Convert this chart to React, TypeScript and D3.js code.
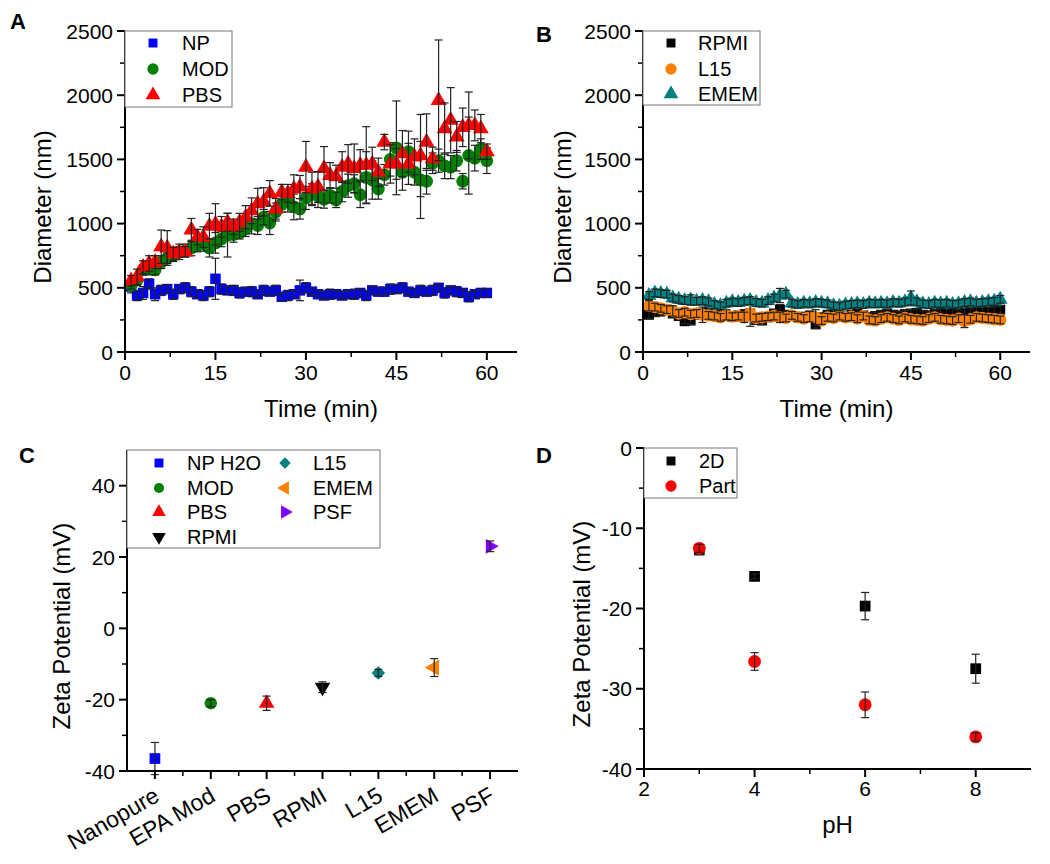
import React, { useRef, useEffect } from "react";
import * as d3 from "d3";

// Datos (diámetro en nm, potencial zeta en mV)
const timeMin = [
  1, 2, 3, 4, 5, 6, 7, 8, 9, 10, 11, 12, 13, 14, 15, 16, 17, 18, 19, 20,
  21, 22, 23, 24, 25, 26, 27, 28, 29, 30, 31, 32, 33, 34, 35, 36, 37, 38, 39, 40,
  41, 42, 43, 44, 45, 46, 47, 48, 49, 50, 51, 52, 53, 54, 55, 56, 57, 58, 59, 60,
];

const npDiam = [
  510, 440, 460, 530, 450, 480, 490, 450, 490, 500, 470, 450, 440, 470, 570, 490, 480, 480, 460, 470,
  470, 450, 480, 470, 480, 430, 440, 450, 480, 500, 470, 450, 440, 450, 450, 440, 450, 450, 460, 440,
  480, 470, 470, 490, 490, 500, 470, 460, 480, 470, 480, 500, 460, 480, 470, 460, 430, 450, 460, 460,
];
const npErr = [
  50, 40, 50, 40, 50, 40, 30, 40, 30, 40, 40, 30, 40, 40, 160, 40, 30, 40, 40, 30,
  40, 30, 40, 30, 40, 30, 40, 30, 80, 40, 30, 30, 30, 40, 30, 30, 30, 40, 30, 40,
  30, 30, 30, 40, 30, 40, 30, 30, 40, 30, 40, 30, 40, 30, 40, 30, 40, 30, 30, 30,
];
const modDiam = [
  520, 560, 640, 650, 640, 700, 730, 755, 780, 790, 810, 830, 845, 810, 850, 880, 910, 915, 930, 960,
  1000, 985, 1050, 1005, 1090, 1150, 1170, 1130, 1115, 1200, 1230, 1215, 1190, 1220, 1185, 1250, 1295, 1310, 1225, 1360,
  1340, 1270, 1380, 1500, 1590, 1400, 1560, 1400, 1340, 1330, 1470, 1490, 1450, 1440, 1490, 1330, 1530, 1510, 1580, 1490,
];
const modErr = [
  30, 40, 40, 50, 40, 50, 40, 50, 40, 50, 60, 50, 60, 70, 80, 60, 170, 60, 50, 60,
  80, 70, 60, 90, 70, 60, 80, 100, 80, 90, 80, 90, 70, 60, 60, 80, 90, 70, 100, 200,
  150, 80, 80, 130, 365, 140, 160, 100, 300, 100, 80, 90, 100, 90, 80, 60, 300, 100, 80, 100,
];
const pbsDiam = [
  555, 585, 660, 690, 700, 820, 810, 765, 780, 780, 950, 895, 895, 980, 995, 975, 1010, 975, 1010, 1050,
  1100, 1155, 1170, 1235, 1115, 1245, 1235, 1270, 1285, 1440, 1270, 1285, 1430, 1375, 1365, 1440, 1465, 1430, 1455, 1455,
  1465, 1400, 1635, 1465, 1465, 1545, 1465, 1520, 1530, 1635, 1505, 1960, 1740, 1805, 1675, 1750, 1765, 1765, 1740, 1560,
];
const pbsErr = [
  40, 60, 50, 60, 50, 130, 135, 50, 60, 40, 90, 60, 80, 100, 160, 80, 70, 60, 70, 90,
  100, 120, 110, 100, 80, 60, 70, 110, 90, 200, 130, 120, 170, 100, 90, 120, 150, 190, 120, 300,
  130, 110, 60, 150, 120, 180, 160, 140, 320, 220, 90, 470, 200, 254, 120, 150, 260, 120, 110, 60,
];

const rpmiDiam = [
  290, 310, 320, 330, 300, 280, 240, 245, 290, 300, 310, 300, 290, 280, 275, 285, 290, 300, 250, 245,
  270, 300, 330, 290, 280, 270, 275, 280, 215, 270, 290, 300, 280, 275, 290, 300, 285, 270, 280, 290,
  300, 290, 285, 295, 300, 305, 290, 285, 300, 310, 305, 310, 300, 315, 310, 320, 325, 315, 320, 330,
];
const rpmiErr = [
  30, 30, 40, 30, 30, 30, 20, 30, 30, 30, 40, 30, 30, 30, 30, 30, 40, 30, 30, 30,
  30, 30, 40, 30, 30, 30, 30, 40, 30, 30, 30, 30, 30, 30, 30, 40, 30, 30, 30, 30,
  30, 30, 30, 30, 30, 30, 30, 30, 30, 30, 30, 30, 30, 30, 30, 30, 30, 30, 30, 30,
];
const l15Diam = [
  360, 350, 340, 330, 320, 300, 310, 295, 300, 290, 285, 280, 270, 290, 275, 280, 270, 300, 265, 270,
  275, 280, 270, 265, 285, 270, 260, 275, 270, 245, 270, 265, 280, 270, 275, 260, 280, 250, 245, 260,
  270, 260, 250, 265, 255, 250, 245, 260, 270, 255, 250, 245, 260, 240, 255, 270, 265, 260, 255, 250,
];
const l15Err = [
  40, 30, 30, 30, 40, 30, 30, 30, 30, 60, 30, 30, 30, 40, 30, 30, 40, 100, 30, 30,
  30, 30, 40, 30, 30, 30, 30, 40, 60, 30, 30, 30, 30, 30, 30, 30, 30, 30, 30, 30,
  30, 30, 30, 30, 30, 30, 30, 30, 30, 30, 30, 30, 30, 50, 30, 30, 30, 30, 30, 30,
];
const ememDiam = [
  440, 460, 455, 450, 420, 410, 400, 405, 395, 400, 390, 370, 360, 380, 390, 385, 395, 400, 385, 380,
  400, 420, 440, 450, 380, 370, 380, 375, 385, 380, 375, 360, 355, 365, 370, 375, 370, 380, 375, 380,
  375, 385, 380, 390, 420, 390, 375, 370, 380, 375, 380, 370, 375, 385, 390, 380, 385, 390, 395, 410,
];
const ememErr = [
  30, 30, 30, 30, 30, 30, 30, 40, 30, 30, 30, 30, 30, 30, 30, 30, 30, 30, 30, 30,
  30, 30, 55, 30, 30, 30, 30, 30, 30, 30, 30, 30, 30, 30, 30, 30, 30, 30, 30, 30,
  30, 30, 30, 30, 55, 30, 30, 30, 30, 30, 30, 30, 30, 30, 30, 30, 30, 30, 30, 30,
];

const zetaMedia = ["Nanopure", "EPA Mod", "PBS", "RPMI", "L15", "EMEM", "PSF"];
const zetaLegend = ["NP H2O", "MOD", "PBS", "RPMI", "L15", "EMEM", "PSF"];
const zetaValues = [-36.5, -21, -21, -16.5, -12.5, -11, 23];
const zetaErr = [4.5, 1, 2, 1.5, 1, 2.5, 1.5];

const phValues = [3, 4, 6, 8];
const zeta2D = [-12.7, -16, -19.7, -27.5];
const zeta2DErr = [0.6, 0.3, 1.7, 1.8];
const zetaPart = [-12.5, -26.6, -32, -36];
const zetaPartErr = [0.5, 1.1, 1.6, 0.5];

const FONT = "'Liberation Sans', Arial, sans-serif";
const TICK_FS = 21;
const TITLE_FS = 24;
const LEGEND_FS = 20;

const drawAxes = (g, x, y, o) => {
  const [x0, x1] = x.range();
  const [y0, y1] = y.range();
  g.append("line").attr("x1", x0).attr("x2", x1).attr("y1", y0).attr("y2", y0)
    .attr("stroke", "#000").attr("stroke-width", 2);
  g.append("line").attr("x1", x0).attr("x2", x0).attr("y1", y0).attr("y2", y1)
    .attr("stroke", "#000").attr("stroke-width", 2);
  o.xMinor.forEach((t) => g.append("line").attr("x1", x(t)).attr("x2", x(t))
    .attr("y1", y0).attr("y2", y0 + 5).attr("stroke", "#000").attr("stroke-width", 1.5));
  o.yMinor.forEach((t) => g.append("line").attr("x1", x0).attr("x2", x0 - 5)
    .attr("y1", y(t)).attr("y2", y(t)).attr("stroke", "#000").attr("stroke-width", 1.5));
  o.xTicks.forEach((t) => {
    g.append("line").attr("x1", x(t)).attr("x2", x(t)).attr("y1", y0).attr("y2", y0 + 8)
      .attr("stroke", "#000").attr("stroke-width", 2);
    if (o.xLabels !== false)
      g.append("text").attr("x", x(t)).attr("y", y0 + o.xTickDy).attr("text-anchor", "middle")
        .attr("font-size", TICK_FS).text(t);
  });
  o.yTicks.forEach((t) => {
    g.append("line").attr("x1", x0).attr("x2", x0 - 8).attr("y1", y(t)).attr("y2", y(t))
      .attr("stroke", "#000").attr("stroke-width", 2);
    g.append("text").attr("x", x0 - 12).attr("y", y(t)).attr("dy", "0.36em")
      .attr("text-anchor", "end").attr("font-size", TICK_FS).text(t);
  });
  if (o.xTitle)
    g.append("text").attr("x", (x0 + x1) / 2).attr("y", o.xTitleY).attr("text-anchor", "middle")
      .attr("font-size", TITLE_FS).text(o.xTitle);
  g.append("text").attr("transform", `translate(${o.yTitleX}, ${o.yTitleY}) rotate(-90)`)
    .attr("text-anchor", "middle").attr("font-size", TITLE_FS).text(o.yTitle);
};

const drawSeries = (g, x, y, xs, ys, errs, shape, color, size, rot = 0, cap = 4) => {
  const idx = d3.range(xs.length);
  const sym = d3.symbol(shape, size)();
  g.append("g").selectAll("path").data(idx).join("path")
    .attr("transform", (i) => `translate(${x(xs[i])}, ${y(ys[i])}) rotate(${rot})`)
    .attr("d", sym).attr("fill", color);
  const eb = g.append("g").attr("stroke", "#222").attr("stroke-width", 1.2);
  idx.forEach((i) => {
    const cx = x(xs[i]), top = y(ys[i] + errs[i]), bot = y(ys[i] - errs[i]);
    eb.append("line").attr("x1", cx).attr("x2", cx).attr("y1", top).attr("y2", bot);
    eb.append("line").attr("x1", cx - cap).attr("x2", cx + cap).attr("y1", top).attr("y2", top);
    eb.append("line").attr("x1", cx - cap).attr("x2", cx + cap).attr("y1", bot).attr("y2", bot);
  });
};

const drawLegend = (g, box, items) => {
  g.append("rect").attr("x", box[0]).attr("y", box[1]).attr("width", box[2] - box[0])
    .attr("height", box[3] - box[1]).attr("fill", "white").attr("stroke", "#777").attr("stroke-width", 1);
  items.forEach((it) => {
    g.append("path").attr("transform", `translate(${it.sx}, ${it.y}) rotate(${it.rot || 0})`)
      .attr("d", d3.symbol(it.shape, it.size || 90)()).attr("fill", it.color);
    g.append("text").attr("x", it.tx).attr("y", it.y).attr("dy", "0.36em")
      .attr("font-size", LEGEND_FS).text(it.label);
  });
};

const Figure = ({ width = 1050, height = 864 }) => {
  const ref = useRef(null);

  useEffect(() => {
    const container = ref.current;
    if (!container) return;
    d3.select(container).selectChildren().remove();
    const svg = d3.select(container).append("g").attr("font-family", FONT).attr("fill", "#000");

    // Panel A
    const xa = d3.scaleLinear().domain([0, 65]).range([125, 517]);
    const ya = d3.scaleLinear().domain([0, 2500]).range([352, 31]);
    const gA = svg.append("g");
    drawSeries(gA, xa, ya, timeMin, npDiam, npErr, d3.symbolSquare, "#0000ff", 110);
    drawSeries(gA, xa, ya, timeMin, modDiam, modErr, d3.symbolCircle, "#008000", 130);
    drawSeries(gA, xa, ya, timeMin, pbsDiam, pbsErr, d3.symbolTriangle, "#ff0000", 110);
    drawAxes(gA, xa, ya, {
      xTicks: [0, 15, 30, 45, 60], xMinor: [7.5, 22.5, 37.5, 52.5],
      yTicks: [0, 500, 1000, 1500, 2000, 2500], yMinor: [250, 750, 1250, 1750, 2250],
      xTickDy: 28, xTitle: "Time (min)", xTitleY: 417,
      yTitle: "Diameter (nm)", yTitleX: 51, yTitleY: 207,
    });
    drawLegend(gA, [125, 31, 232, 107], [
      { label: "NP", shape: d3.symbolSquare, color: "#0000ff", sx: 153, tx: 182, y: 43, size: 80 },
      { label: "MOD", shape: d3.symbolCircle, color: "#008000", sx: 153, tx: 182, y: 69, size: 100 },
      { label: "PBS", shape: d3.symbolTriangle, color: "#ff0000", sx: 153, tx: 182, y: 95, size: 95 },
    ]);

    // Panel B
    const xb = d3.scaleLinear().domain([0, 65]).range([643, 1030]);
    const yb = d3.scaleLinear().domain([0, 2500]).range([352, 31]);
    const gB = svg.append("g");
    drawSeries(gB, xb, yb, timeMin, rpmiDiam, rpmiErr, d3.symbolSquare, "#000000", 100);
    drawSeries(gB, xb, yb, timeMin, l15Diam, l15Err, d3.symbolCircle, "#ff8000", 120);
    drawSeries(gB, xb, yb, timeMin, ememDiam, ememErr, d3.symbolTriangle, "#008080", 95);
    drawAxes(gB, xb, yb, {
      xTicks: [0, 15, 30, 45, 60], xMinor: [7.5, 22.5, 37.5, 52.5],
      yTicks: [0, 500, 1000, 1500, 2000, 2500], yMinor: [250, 750, 1250, 1750, 2250],
      xTickDy: 28, xTitle: "Time (min)", xTitleY: 417,
      yTitle: "Diameter (nm)", yTitleX: 571, yTitleY: 207,
    });
    drawLegend(gB, [643, 31, 760, 105], [
      { label: "RPMI", shape: d3.symbolSquare, color: "#000000", sx: 671, tx: 698, y: 43, size: 80 },
      { label: "L15", shape: d3.symbolCircle, color: "#ff8000", sx: 671, tx: 698, y: 69, size: 100 },
      { label: "EMEM", shape: d3.symbolTriangle, color: "#008080", sx: 671, tx: 698, y: 94, size: 95 },
    ]);

    // Panel C
    const xc = d3.scaleLinear().domain([0.5, 7.5]).range([127, 518]);
    const yc = d3.scaleLinear().domain([-40, 50]).range([771, 450]);
    const gC = svg.append("g");
    const cShapes = [
      { shape: d3.symbolSquare, color: "#0000ff", rot: 0, size: 115 },
      { shape: d3.symbolCircle, color: "#008000", rot: 0, size: 120 },
      { shape: d3.symbolTriangle, color: "#ff0000", rot: 0, size: 105 },
      { shape: d3.symbolTriangle, color: "#000000", rot: 180, size: 105 },
      { shape: d3.symbolSquare, color: "#008080", rot: 45, size: 90 },
      { shape: d3.symbolTriangle, color: "#ff8000", rot: -90, size: 115 },
      { shape: d3.symbolTriangle, color: "#8000ff", rot: 90, size: 95 },
    ];
    zetaMedia.forEach((m, i) => {
      const s = cShapes[i];
      drawSeries(gC, xc, yc, [i + 1], [zetaValues[i]], [zetaErr[i]], s.shape, s.color, s.size, s.rot);
    });
    drawAxes(gC, xc, yc, {
      xTicks: [1, 2, 3, 4, 5, 6, 7], xMinor: [1.5, 2.5, 3.5, 4.5, 5.5, 6.5], xLabels: false,
      yTicks: [-40, -20, 0, 20, 40], yMinor: [-30, -10, 10, 30],
      xTickDy: 28, yTitle: "Zeta Potential (mV)", yTitleX: 70, yTitleY: 626,
    });
    zetaMedia.forEach((m, i) => {
      gC.append("text").attr("transform", `translate(${xc(i + 1) + 6}, 800) rotate(-30)`)
        .attr("text-anchor", "end").attr("font-size", 23).text(m);
    });
    const cRows = [463, 488, 512, 537];
    drawLegend(gC, [127, 450, 380, 548], zetaLegend.map((label, i) => ({
      label, shape: cShapes[i].shape, color: cShapes[i].color, rot: cShapes[i].rot,
      size: cShapes[i].rot === 45 ? 65 : 80,
      sx: i < 4 ? 159 : 285, tx: i < 4 ? 187 : 313, y: cRows[i < 4 ? i : i - 4],
    })));

    // Panel D
    const xd = d3.scaleLinear().domain([2, 9]).range([644, 1031]);
    const yd = d3.scaleLinear().domain([-40, 0]).range([769, 448]);
    const gD = svg.append("g");
    drawSeries(gD, xd, yd, phValues, zeta2D, zeta2DErr, d3.symbolSquare, "#000000", 115);
    drawSeries(gD, xd, yd, phValues, zetaPart, zetaPartErr, d3.symbolCircle, "#ff0000", 130);
    drawAxes(gD, xd, yd, {
      xTicks: [2, 4, 6, 8], xMinor: [3, 5, 7],
      yTicks: [0, -10, -20, -30, -40], yMinor: [-5, -15, -25, -35],
      xTickDy: 27, xTitle: "pH", xTitleY: 833,
      yTitle: "Zeta Potential (mV)", yTitleX: 590, yTitleY: 624,
    });
    drawLegend(gD, [644, 448, 737, 498], [
      { label: "2D", shape: d3.symbolSquare, color: "#000000", sx: 671, tx: 699, y: 461, size: 80 },
      { label: "Part", shape: d3.symbolCircle, color: "#ff0000", sx: 671, tx: 699, y: 486, size: 100 },
    ]);

    // Etiquetas de panel
    [["A", 10, 29], ["B", 536, 42], ["C", 19, 463], ["D", 536, 463]].forEach(([t, px, py]) => {
      svg.append("text").attr("x", px).attr("y", py).attr("font-size", 22)
        .attr("font-weight", "bold").text(t);
    });
  }, [width, height]);

  return (
    <svg ref={ref} width={width} height={height}
      style={{ position: "absolute", left: 0, top: 0, background: "white" }} />
  );
};

export default function App() {
  return <Figure />;
}
